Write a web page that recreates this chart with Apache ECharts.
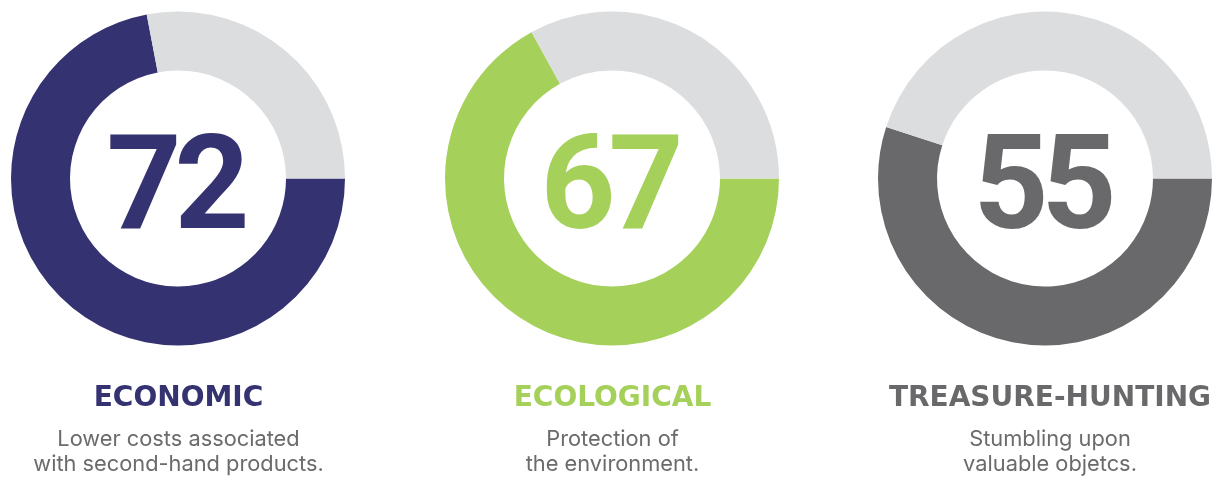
<!DOCTYPE html>
<html>
<head>
<meta charset="utf-8">
<script src="https://cdn.jsdelivr.net/npm/echarts@6/dist/echarts.min.js"></script>
<style>
  html, body { margin: 0; padding: 0; background: #ffffff; }
  #chart { width: 1216px; height: 481px; }
</style>
</head>
<body>
<div id="chart"></div>
<script>
// Share of respondents citing each motivation (percent)
const motives = ['ECONOMIC', 'ECOLOGICAL', 'TREASURE-HUNTING'];
const shares = [72, 67, 55];
const descriptions = [
  'Lower costs associated\nwith second-hand products.',
  'Protection of\nthe environment.',
  'Stumbling upon\nvaluable objetcs.'
];
const colors = ['#343271', '#a5d05a', '#69696b'];
const restColor = '#dcdddf';
const textGray = '#6b6b6b';

const centersX = [178, 612, 1045];
const centerY = 178.5;
const labelX = [178.5, 612.5, 1050];

const chart = echarts.init(document.getElementById('chart'), null, { renderer: 'canvas' });

// Big centred percentage, one rich token per digit so the digits sit tightly
const digitLabel = (p) => String(p.value).split('').map(d => `{d|${d}}`).join('');

const series = shares.map((v, i) => ({
  type: 'pie',
  center: [centersX[i], centerY],
  radius: [108, 167],
  startAngle: 0,
  clockwise: true,
  silent: true,
  animation: false,
  emphasis: { disabled: true, scale: false },
  labelLine: { show: false },
  data: [
    {
      value: v,
      name: motives[i],
      itemStyle: { color: colors[i] },
      label: {
        show: true,
        position: 'center',
        formatter: digitLabel,
        rich: {
          d: {
            color: colors[i],
            fontFamily: 'Roboto',
            fontWeight: 'bold',
            fontSize: 131,
            width: 68,
            align: 'center',
            padding: [34, 0, 0, 0]
          }
        }
      }
    },
    {
      value: 100 - v,
      name: 'rest',
      itemStyle: { color: restColor },
      label: { show: false }
    }
  ]
}));

const graphics = [];
motives.forEach((m, i) => {
  graphics.push({
    type: 'text',
    x: labelX[i],
    y: 399,
    style: {
      text: m,
      fill: colors[i],
      font: 'bold 28px "DejaVu Sans"',
      textAlign: 'center',
      textVerticalAlign: 'middle'
    }
  });
  graphics.push({
    type: 'text',
    x: labelX[i],
    y: 452,
    style: {
      text: descriptions[i],
      fill: textGray,
      font: '400 21.8px Inter',
      lineHeight: 25.6,
      textAlign: 'center',
      textVerticalAlign: 'middle'
    }
  });
});

chart.setOption({
  backgroundColor: '#ffffff',
  animation: false,
  series: series,
  graphic: graphics
});
</script>
</body>
</html>
